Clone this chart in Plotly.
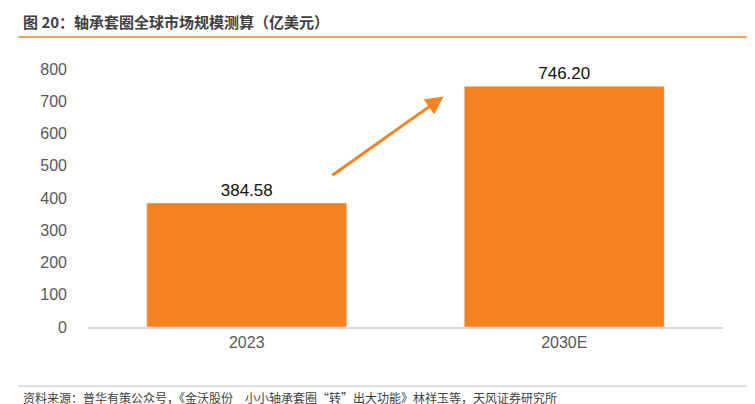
import plotly.graph_objects as go

categories = ["2023", "2030E"]
values = [384.58, 746.20]
labels = ["384.58", "746.20"]
tick_vals = [0, 100, 200, 300, 400, 500, 600, 700, 800]

orange = "#F58220"
fig = go.Figure(go.Bar(x=categories, y=values, marker_color=orange, width=0.63,
                       text=labels, textposition="outside",
                       textfont=dict(size=17, color="#111", family="Liberation Sans, Arial"),
                       cliponaxis=False))
fig.update_layout(
    width=755, height=404, margin=dict(l=80, r=40, t=61, b=85),
    plot_bgcolor="white", paper_bgcolor="white", showlegend=False,
    font=dict(family="Liberation Sans, Noto Sans CJK SC", color="#555"),
    xaxis=dict(showline=True, linecolor="#d9d9d9", linewidth=1.5, tickfont=dict(size=16, color="#595959"), ticks=""),
    yaxis=dict(range=[0, 800], tickvals=tick_vals, showgrid=False, zeroline=False,
               tickfont=dict(size=16, color="#595959"), ticklabelstandoff=20),
    annotations=[
        dict(x=0.62, y=715, ax=0.265, ay=467, xref="x", yref="y", axref="x", ayref="y",
             showarrow=True, arrowhead=2, arrowsize=1.2, arrowwidth=3, arrowcolor=orange, text=""),
        dict(x=-0.106, y=1.186, xref="paper", yref="paper", yanchor="middle", xanchor="left",
             text="<b>图 20：轴承套圈全球市场规模测算（亿美元）</b>", showarrow=False,
             font=dict(size=15, color="#404040", family="Noto Sans CJK SC")),
        dict(x=-0.106, y=-0.275, xref="paper", yref="paper", yanchor="middle", xanchor="left",
             text="资料来源：普华有策公众号，《金沃股份　小小轴承套圈“转”出大功能》林祥玉等，天风证券研究所",
             showarrow=False, font=dict(size=12, color="#404040", family="Noto Sans CJK SC")),
    ],
    shapes=[
        dict(type="line", xref="paper", yref="paper", x0=-0.11, x1=1.047, y0=1.124, y1=1.124,
             line=dict(color=orange, width=1.5)),
        dict(type="line", xref="paper", yref="paper", x0=-0.11, x1=1.047, y0=-0.229, y1=-0.229,
             line=dict(color="#bfbfbf", width=1)),
    ],
)
fig.write_html("out.html")
